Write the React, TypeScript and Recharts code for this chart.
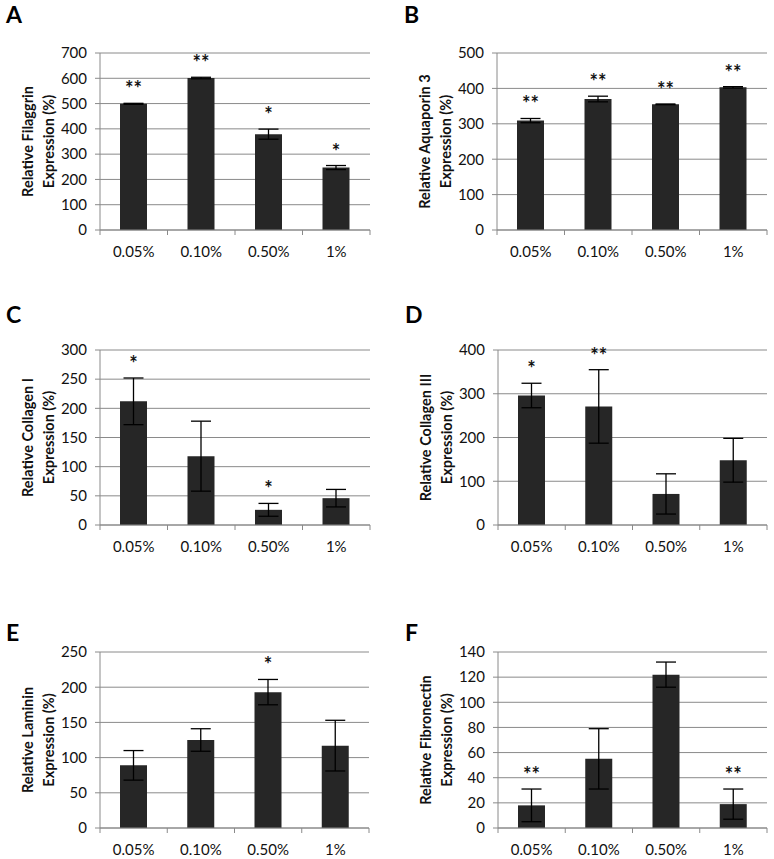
import { BarChart, Bar, XAxis, YAxis, CartesianGrid, ErrorBar, LabelList, Label } from 'recharts';

// ---- data ----
const categories = ['0.05%', '0.10%', '0.50%', '1%'];

const filaggrin = [499, 601, 379, 247];
const filaggrinErr = [2, 3, 20, 8];
const filaggrinStars = ['**', '**', '*', '*'];
const filaggrinTicks = [0, 100, 200, 300, 400, 500, 600, 700];

const aquaporin = [309, 370, 355, 403];
const aquaporinErr = [6, 8, 1, 2];
const aquaporinStars = ['**', '**', '**', '**'];
const aquaporinTicks = [0, 100, 200, 300, 400, 500];

const collagen1 = [212, 118, 26, 46];
const collagen1Err = [40, 60, 11, 15];
const collagen1Stars = ['*', '', '*', ''];
const collagen1Ticks = [0, 50, 100, 150, 200, 250, 300];

const collagen3 = [296, 271, 71, 148];
const collagen3Err = [28, 84, 46, 50];
const collagen3Stars = ['*', '**', '', ''];
const collagen3Ticks = [0, 100, 200, 300, 400];

const laminin = [89, 125, 193, 117];
const lamininErr = [21, 16, 18, 36];
const lamininStars = ['', '', '*', ''];
const lamininTicks = [0, 50, 100, 150, 200, 250];

const fibronectin = [18, 55, 122, 19];
const fibronectinErr = [13, 24, 10, 12];
const fibronectinStars = ['**', '', '', '**'];
const fibronectinTicks = [0, 20, 40, 60, 80, 100, 120, 140];

const FONT = 'Lato, "Open Sans", sans-serif';
const GRID = '#8a8a8a';
const BAR = '#262626';

type PanelProps = {
  letter: string;
  title: [string, string];
  values: number[];
  errs: number[];
  stars: string[];
  ticks: number[];
  left: number; // panel left edge on page
  plot: { x0: number; x1: number; y0: number; y1: number };
};

function Panel({ title, values, errs, stars, ticks, left, plot }: PanelProps) {
  const data = categories.map((name, i) => ({ name, value: values[i], err: errs[i], star: stars[i] }));
  const padTop = 25;
  const padBottom = 35;
  const top = plot.y0 - padTop;
  const width = plot.x1 + 10 - left;
  const height = plot.y1 + padBottom - top;
  const half = (plot.x1 - plot.x0) / categories.length / 2;

  const renderTick = (p: any) => {
    const { x, y, payload, index } = p;
    return (
      <g>
        <line x1={x - half} x2={x - half} y1={y} y2={y + 5} stroke={GRID} />
        {index === categories.length - 1 && (
          <line x1={x + half} x2={x + half} y1={y} y2={y + 5} stroke={GRID} />
        )}
        <text x={x} y={y + 27} textAnchor="middle" fontSize={15} fontFamily={FONT} fill="#111">
          {payload.value}
        </text>
      </g>
    );
  };

  const renderStar = (p: any) => {
    const { x, y, width: w, height: h, value, index } = p;
    if (!value) return null;
    const pxPerUnit = h / values[index];
    const errTop = y - errs[index] * pxPerUnit;
    return (
      <text x={x + w / 2} y={errTop - 7} textAnchor="middle" fontSize={20} fontWeight={700} fontFamily={FONT} fill="#111">
        {value}
      </text>
    );
  };

  const renderTitle = (p: any) => {
    const vb = p.viewBox;
    const cy = vb.y + vb.height / 2;
    const xs = [vb.x + vb.width - 73, vb.x + vb.width - 52];
    return (
      <g>
        {title.map((t, i) => (
          <text
            key={i}
            x={xs[i]}
            y={cy}
            transform={`rotate(-90, ${xs[i]}, ${cy})`}
            textAnchor="middle"
            dominantBaseline="central"
            fontSize={14.5}
            fontWeight={700}
            fontFamily={FONT}
            fill="#111"
          >
            {t}
          </text>
        ))}
      </g>
    );
  };

  return (
    <div style={{ position: 'absolute', left, top }}>
      <BarChart
        width={width}
        height={height}
        data={data}
        margin={{ top: padTop, right: 10, left: 0, bottom: 0 }}
        barSize={27}
      >
        <CartesianGrid vertical={false} stroke={GRID} />
        <XAxis
          dataKey="name"
          height={padBottom}
          axisLine={{ stroke: GRID }}
          tickLine={false}
          tickSize={0}
          tickMargin={0}
          interval={0}
          tick={renderTick}
        />
        <YAxis
          width={plot.x0 - left}
          domain={[0, ticks[ticks.length - 1]]}
          ticks={ticks}
          interval={0}
          axisLine={{ stroke: GRID }}
          tickLine={{ stroke: GRID }}
          tickSize={5}
          tickMargin={8}
          tick={{ fontSize: 15, fontFamily: FONT, fill: '#111' }}
        >
          <Label content={renderTitle} />
        </YAxis>
        <Bar dataKey="value" fill={BAR} isAnimationActive={false}>
          <ErrorBar dataKey="err" width={10} stroke="#000" strokeWidth={1.3} direction="y" />
          <LabelList dataKey="star" content={renderStar} />
        </Bar>
      </BarChart>
    </div>
  );
}

const panels: PanelProps[] = [
  {
    letter: 'A', title: ['Relative Filaggrin', 'Expression (%)'],
    values: filaggrin, errs: filaggrinErr, stars: filaggrinStars, ticks: filaggrinTicks,
    left: 0, plot: { x0: 100, x1: 370, y0: 53, y1: 230 },
  },
  {
    letter: 'B', title: ['Relative Aquaporin 3', 'Expression (%)'],
    values: aquaporin, errs: aquaporinErr, stars: aquaporinStars, ticks: aquaporinTicks,
    left: 387, plot: { x0: 497, x1: 767, y0: 53, y1: 230 },
  },
  {
    letter: 'C', title: ['Relative Collagen I', 'Expression (%)'],
    values: collagen1, errs: collagen1Err, stars: collagen1Stars, ticks: collagen1Ticks,
    left: 0, plot: { x0: 100, x1: 370, y0: 350, y1: 525 },
  },
  {
    letter: 'D', title: ['Relative Collagen III', 'Expression (%)'],
    values: collagen3, errs: collagen3Err, stars: collagen3Stars, ticks: collagen3Ticks,
    left: 387, plot: { x0: 498, x1: 767, y0: 350, y1: 525 },
  },
  {
    letter: 'E', title: ['Relative Laminin', 'Expression (%)'],
    values: laminin, errs: lamininErr, stars: lamininStars, ticks: lamininTicks,
    left: 0, plot: { x0: 100, x1: 369, y0: 652, y1: 828 },
  },
  {
    letter: 'F', title: ['Relative Fibronectin', 'Expression (%)'],
    values: fibronectin, errs: fibronectinErr, stars: fibronectinStars, ticks: fibronectinTicks,
    left: 387, plot: { x0: 498, x1: 767, y0: 652, y1: 828 },
  },
];

// letter baselines on the page
const letterPos = [
  { x: 6, y: 23 },
  { x: 404, y: 23 },
  { x: 6, y: 323 },
  { x: 405, y: 323 },
  { x: 6, y: 641 },
  { x: 405, y: 641 },
];

export default function App() {
  return (
    <div style={{ position: 'absolute', left: 0, top: 0, width: 774, height: 859, background: '#fff' }}>
      <svg width={774} height={859} style={{ position: 'absolute', left: 0, top: 0 }}>
        {panels.map((p, i) => (
          <text key={p.letter} x={letterPos[i].x} y={letterPos[i].y} fontSize={23} fontWeight={700} fontFamily={FONT} fill="#000">
            {p.letter}
          </text>
        ))}
      </svg>
      {panels.map((p) => (
        <Panel key={p.letter} {...p} />
      ))}
    </div>
  );
}
